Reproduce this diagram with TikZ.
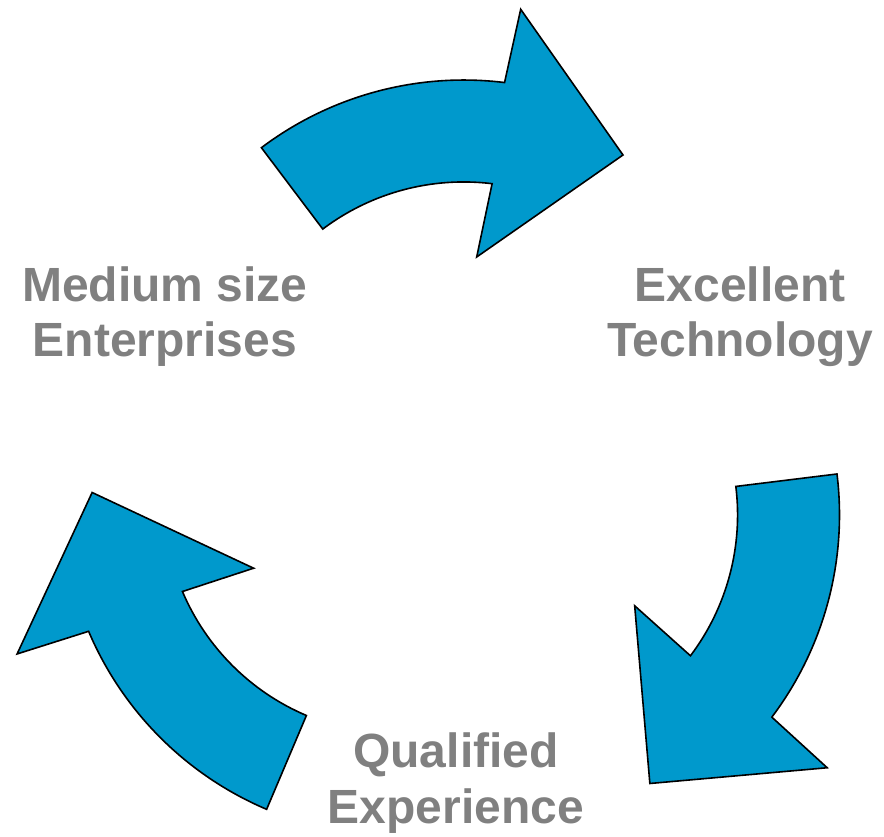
\documentclass[tikz,border=0pt]{standalone}
\usepackage{fontspec}
\setmainfont{Liberation Sans}
\definecolor{cycleblue}{RGB}{0,153,204}
\definecolor{labelgray}{RGB}{128,128,128}
\tikzset{
  arrowbody/.style={fill=cycleblue, draw=black, line width=1.6pt, line join=miter},
  cyclelabel/.style={text=labelgray, align=center, anchor=base, inner sep=0pt,
    font=\bfseries\fontsize{48}{55.2}\selectfont},
  % one curved arrow, drawn relative to the centre of the cycle
  cyclearrow/.pic={
    \path[arrowbody] (-193.6,329.3) arc[start angle=127, end angle=83, radius=336]
      -- (65.7,467.7) -- (168,322) -- (21.7,220)
      -- (37.1,293.3) arc[start angle=83, end angle=127, radius=234]
      -- cycle;
  }
}
\begin{document}
\begin{tikzpicture}[x=1pt, y=1pt]
  \useasboundingbox (0,0) rectangle (884,836);
  \coordinate (hub) at (455,359);
  \pic (upper) at (hub) {cyclearrow};
  \pic[rotate=-120] (right) at (hub) {cyclearrow};
  \pic[rotate=120] (left) at (hub) {cyclearrow};
  % the anchor sits on the baseline of the second line
  \node[cyclelabel] (mse) at (165,479) {Medium size\\Enterprises};
  \node[cyclelabel] (ext) at (740,479) {Excellent\\Technology};
  \node[cyclelabel] (qex) at (456,13) {Qualified\\Experience};
\end{tikzpicture}
\end{document}
